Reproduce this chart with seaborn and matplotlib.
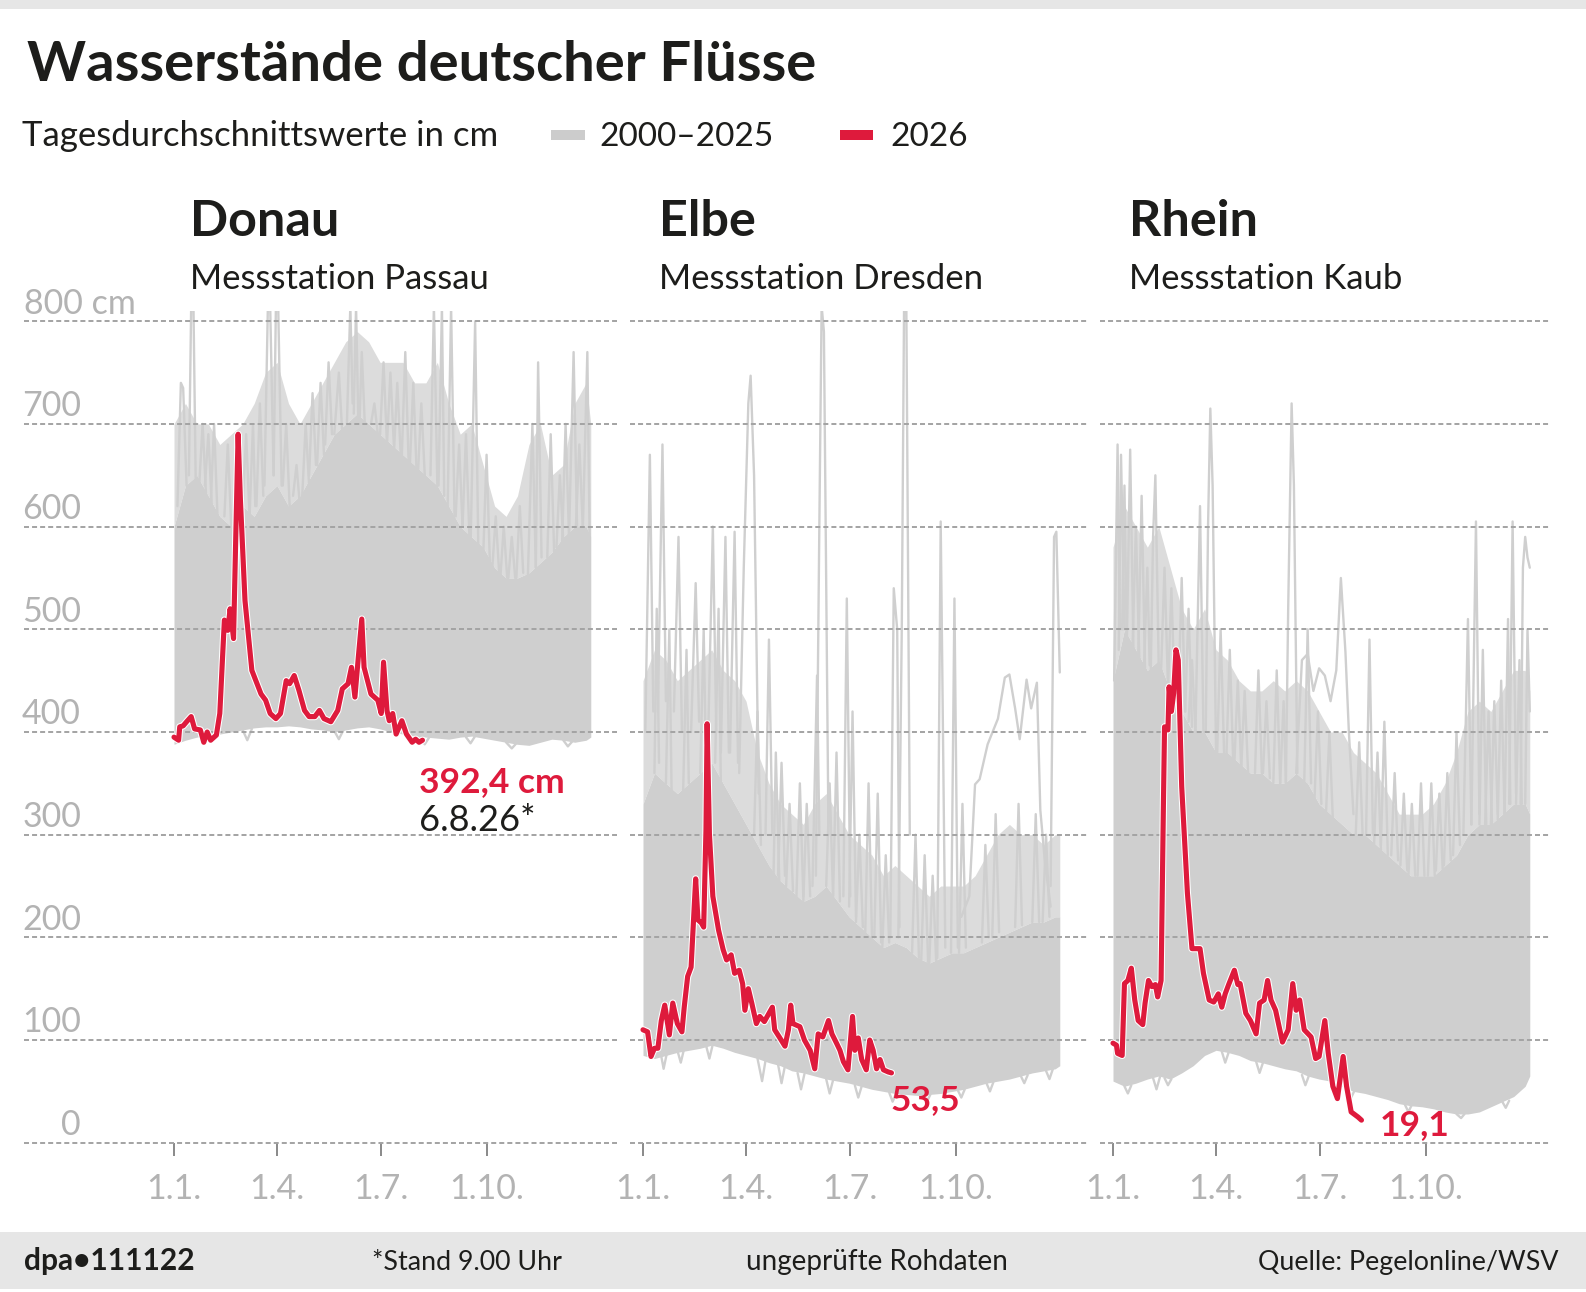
import matplotlib
matplotlib.use("Agg")
import matplotlib.pyplot as plt
from matplotlib.patches import Rectangle
import matplotlib.patheffects as pe
import pandas as pd
import seaborn as sns

# ---------------- data ----------------
GREY_DAYS = [0, 10, 20, 30, 40, 50, 60, 70, 80, 90, 100, 110, 120, 130, 140, 150, 160, 170, 180,
             190, 200, 210, 220, 230, 240, 250, 260, 270, 280, 290, 300, 310, 320, 330, 340, 350, 360, 364]
MONTH_TICKS = [0, 90, 181, 273]
MONTH_LABELS = ["1.1.", "1.4.", "1.7.", "1.10."]
Y_TICKS = [0, 100, 200, 300, 400, 500, 600, 700, 800]

# Donau / Passau
donau_low = [388, 392, 395, 397, 398, 400, 402, 404, 405, 405, 406, 405, 403, 402, 400, 402, 404, 405, 403,
             400, 398, 396, 395, 394, 393, 395, 396, 394, 392, 390, 388, 387, 390, 393, 392, 390, 392, 395]
donau_core = [600, 640, 650, 630, 610, 600, 620, 610, 630, 640, 620, 630, 650, 670, 690, 700, 710, 700, 690,
              680, 670, 660, 650, 640, 620, 600, 590, 580, 560, 550, 550, 555, 565, 575, 590, 600, 600, 590]
donau_outer = [700, 720, 700, 700, 680, 690, 700, 720, 750, 760, 720, 700, 720, 740, 760, 780, 790, 780, 760,
               760, 760, 740, 740, 760, 720, 690, 700, 660, 620, 610, 630, 680, 700, 650, 660, 720, 740, 700]
donau_spike_days = [[3, 6, 8, 11], [13, 15, 17, 19], [22, 25, 28], [32, 35, 38], [44, 47, 50], [72, 75, 78],
                    [79, 82, 84, 87], [87, 89, 91, 94], [104, 107, 110], [140, 144, 147], [151, 154, 156],
                    [157, 159, 161], [162, 164, 167], [172, 175, 178], [199, 202, 205], [213, 216, 219],
                    [224, 227, 230], [231, 234, 236], [239, 242, 245], [259, 263, 266], [270, 273, 276],
                    [309, 313, 316], [316, 318, 321], [326, 329, 332], [345, 349, 352], [357, 361, 363],
                    [27, 30, 33], [53, 56, 59], [60, 63, 66], [66, 69, 71], [95, 98, 101], [112, 115, 118],
                    [118, 121, 124], [125, 128, 131], [132, 135, 138], [180, 183, 186], [186, 189, 192],
                    [192, 195, 198], [206, 209, 212], [246, 249, 252], [252, 255, 258], [278, 281, 284],
                    [285, 288, 291], [292, 295, 298], [299, 302, 305], [334, 337, 340], [339, 342, 345],
                    [351, 354, 357],
                    [60, 64, 68], [140, 144, 148], [215, 219, 223], [255, 259, 263], [290, 295, 299],
                    [340, 344, 348]]
donau_spike_vals = [[620, 740, 735, 640], [650, 815, 815, 640], [640, 700, 630], [620, 700, 610], [610, 680, 600],
                    [620, 720, 630], [640, 815, 815, 650], [650, 815, 815, 640], [630, 660, 620], [690, 750, 690],
                    [700, 815, 720], [710, 815, 700], [700, 770, 690], [700, 720, 690], [670, 770, 660],
                    [650, 720, 650], [650, 815, 640], [640, 815, 630], [620, 815, 610], [580, 800, 560],
                    [570, 670, 560], [550, 700, 560], [560, 760, 570], [570, 690, 575], [590, 770, 600],
                    [595, 770, 590],
                    [640, 690, 620], [600, 660, 610], [620, 690, 610], [610, 700, 620], [640, 700, 620],
                    [630, 700, 640], [650, 730, 660], [660, 740, 670], [680, 760, 690], [690, 760, 680],
                    [680, 750, 680], [670, 740, 670], [660, 740, 650], [610, 680, 600], [600, 690, 590],
                    [560, 610, 555], [550, 600, 550], [550, 590, 550], [550, 620, 555], [580, 650, 585],
                    [585, 700, 590], [600, 680, 600],
                    [402, 392, 403], [401, 393, 402], [395, 388, 395], [395, 389, 396], [390, 384, 389],
                    [392, 386, 391]]
donau_red_days = [0, 4, 5, 8, 11, 15, 18, 23, 26, 29, 32, 37, 40, 44, 47, 49, 52, 54, 56, 58,
                  62, 68, 76, 80, 84, 89, 93, 98, 101, 105, 109, 114, 118, 123, 127, 131, 137, 143, 147, 152,
                  155, 158, 161, 164, 166, 172, 178, 181, 183, 186, 188, 191, 194, 199, 203, 208, 211, 214, 217]
donau_red_vals = [395, 392, 405, 406, 410, 415, 403, 402, 390, 400, 392, 397, 418, 509, 499, 520, 491, 593, 690, 626,
                  528, 460, 437, 431, 418, 413, 418, 450, 447, 455, 441, 421, 415, 415, 421, 413, 410, 421, 442, 447,
                  463, 434, 473, 510, 463, 437, 431, 418, 468, 421, 411, 418, 398, 411, 398, 390, 393, 390, 392]

# Elbe / Dresden
elbe_low = [85, 82, 85, 88, 90, 92, 95, 92, 88, 85, 82, 78, 75, 70, 68, 65, 62, 60, 58,
            55, 52, 50, 48, 47, 46, 47, 48, 50, 52, 55, 58, 60, 62, 65, 68, 70, 72, 75]
elbe_core = [330, 360, 350, 340, 350, 360, 370, 350, 330, 310, 290, 270, 255, 245, 235, 240, 250, 235, 220,
             210, 200, 190, 195, 190, 180, 175, 180, 185, 185, 190, 195, 200, 205, 210, 215, 215, 220, 220]
elbe_outer = [450, 480, 470, 450, 460, 470, 480, 460, 450, 430, 380, 350, 330, 320, 310, 330, 340, 320, 300,
              290, 280, 260, 270, 260, 250, 240, 250, 250, 250, 260, 280, 300, 310, 300, 300, 290, 300, 300]
elbe_spike_days = [[2, 6, 9], [13, 17, 20], [27, 31, 34], [42, 46, 49], [57, 61, 64], [68, 72, 75], [76, 80, 83],
                   [84, 88, 92, 94, 97, 101], [107, 110, 113], [118, 121, 124], [134, 137, 140], [148, 152, 154],
                   [151, 154, 156, 158, 162], [175, 178, 181], [180, 183, 186], [194, 197, 200], [202, 205, 208],
                   [216, 219, 222, 224], [223, 226, 228, 230, 233], [257, 260, 264], [269, 272, 275],
                   [278, 285, 290, 294, 301, 310, 316, 320, 325, 329, 335, 339, 344, 347, 351, 356],
                   [356, 359, 361, 364],
                   [10, 12, 14], [20, 23, 25], [35, 38, 40], [50, 53, 55], [63, 66, 68], [97, 100, 103],
                   [114, 116, 119], [125, 128, 131], [140, 143, 146], [160, 163, 166], [166, 169, 172],
                   [186, 189, 192], [209, 212, 215], [235, 238, 241], [243, 246, 249], [250, 253, 256],
                   [276, 279, 282], [296, 299, 302], [305, 308, 311], [325, 328, 331], [340, 343, 346],
                   [349, 352, 355],
                   [15, 18, 21], [30, 33, 36], [55, 58, 61], [100, 104, 107], [118, 121, 124], [135, 138, 141],
                   [160, 163, 166], [185, 188, 191], [215, 218, 221], [245, 248, 251], [275, 278, 281],
                   [300, 303, 306], [330, 333, 336], [352, 355, 358]]
elbe_spike_vals = [[400, 670, 420], [420, 680, 430], [420, 590, 400], [400, 545, 410], [400, 600, 400],
                   [380, 590, 380], [380, 595, 370], [360, 560, 720, 747, 650, 340], [300, 490, 300],
                   [260, 370, 260], [240, 350, 240], [250, 455, 300], [260, 600, 815, 790, 300],
                   [240, 530, 240], [230, 420, 220], [200, 350, 200], [200, 340, 195], [200, 540, 500, 210],
                   [200, 500, 815, 815, 300], [180, 605, 190], [185, 530, 190],
                   [220, 240, 349, 354, 388, 413, 453, 456, 423, 393, 451, 423, 448, 324, 274, 230],
                   [250, 590, 595, 458],
                   [360, 520, 370], [350, 500, 340], [340, 480, 350], [360, 500, 370], [370, 520, 350],
                   [300, 420, 290], [260, 380, 255], [250, 330, 245], [235, 330, 240], [250, 350, 240],
                   [240, 380, 235], [215, 300, 210], [190, 280, 195], [185, 300, 180], [178, 280, 176],
                   [175, 260, 178], [185, 330, 190], [195, 290, 200], [200, 320, 205], [210, 330, 212],
                   [215, 320, 215], [215, 300, 220],
                   [90, 72, 88], [90, 78, 92], [95, 82, 96], [82, 60, 80], [76, 58, 75], [68, 52, 67],
                   [62, 48, 61], [56, 44, 55], [49, 40, 48], [46, 40, 47], [51, 44, 52], [58, 50, 59],
                   [65, 58, 66], [70, 62, 72]]
elbe_red_days = [0, 4, 7, 10, 13, 16, 19, 23, 26, 30, 34, 36, 39, 42, 44, 46, 48, 51, 53, 55,
                 56, 58, 61, 66, 70, 73, 77, 80, 84, 87, 89, 92, 95, 99, 102, 106, 109, 113, 115, 119,
                 124, 127, 129, 131, 137, 141, 146, 150, 153, 157, 162, 165, 169, 172, 175, 179, 183, 185, 188, 191,
                 195, 198, 201, 204, 207, 210, 214, 217]
elbe_red_vals = [110, 108, 84, 92, 92, 119, 134, 105, 136, 116, 108, 132, 162, 171, 214, 257, 217, 214, 210, 305,
                 408, 301, 240, 207, 188, 178, 183, 165, 168, 155, 129, 150, 136, 116, 123, 118, 124, 132, 110, 103,
                 94, 110, 134, 116, 113, 100, 90, 72, 106, 103, 119, 106, 97, 90, 79, 71, 123, 90, 102, 81,
                 71, 100, 90, 72, 81, 71, 69, 68]

# Rhein / Kaub
rhein_low = [60, 55, 58, 62, 65, 62, 68, 75, 85, 90, 88, 85, 80, 78, 75, 72, 70, 65, 62,
             60, 55, 50, 48, 45, 42, 38, 36, 35, 33, 30, 28, 28, 30, 35, 40, 45, 55, 65]
rhein_core = [450, 500, 480, 460, 470, 440, 420, 400, 400, 380, 380, 370, 360, 360, 350, 350, 360, 350, 330,
              320, 310, 300, 300, 290, 280, 270, 260, 260, 260, 270, 280, 300, 310, 310, 320, 330, 330, 320]
rhein_outer = [580, 620, 600, 580, 600, 560, 520, 500, 520, 480, 470, 450, 440, 440, 450, 440, 450, 440, 420,
               400, 400, 380, 370, 360, 340, 320, 320, 320, 330, 350, 380, 420, 430, 420, 440, 460, 460, 440]
rhein_spike_days = [[1, 4, 6], [5, 7, 10], [12, 15, 18], [22, 25, 28], [33, 35, 37, 40], [57, 60, 63], [72, 76, 79],
                    [81, 83, 85, 87, 90], [91, 94, 97], [99, 102, 105], [124, 127, 130], [140, 143, 146],
                    [151, 153, 156, 158, 161], [167, 170, 173],
                    [160, 165, 170, 175, 180, 185, 190, 195, 199, 203, 206, 210],
                    [221, 224, 227], [234, 237, 240], [266, 269, 272], [275, 278, 281], [282, 285, 288],
                    [297, 300, 303], [306, 310, 313], [313, 317, 320], [320, 323, 326], [330, 333, 336],
                    [342, 345, 347], [346, 349, 352], [356, 358, 360, 362, 364],
                    [8, 10, 12], [17, 20, 23], [27, 30, 32], [42, 45, 48], [48, 51, 54], [63, 66, 69],
                    [66, 69, 72], [106, 109, 112], [112, 115, 118], [131, 134, 137], [146, 149, 151],
                    [176, 179, 182], [186, 189, 192], [212, 215, 218], [228, 231, 234], [243, 246, 249],
                    [251, 254, 257], [258, 261, 264], [289, 292, 295], [325, 328, 331], [336, 339, 342],
                    [352, 355, 357], [360, 362, 364],
                    [10, 13, 16], [35, 38, 41], [45, 48, 51], [95, 98, 101], [125, 128, 131], [165, 168, 171],
                    [205, 208, 211], [255, 258, 261], [300, 304, 307], [340, 343, 346]]
rhein_spike_vals = [[450, 680, 500], [480, 670, 500], [480, 675, 470], [470, 630, 460], [460, 590, 650, 460],
                    [430, 550, 420], [400, 620, 400], [400, 600, 715, 640, 380], [380, 500, 380], [375, 480, 370],
                    [360, 460, 360], [350, 460, 350], [350, 520, 720, 640, 360], [350, 500, 350],
                    [360, 470, 476, 440, 462, 455, 430, 460, 550, 478, 400, 320],
                    [300, 490, 300], [290, 410, 280], [260, 350, 260], [260, 350, 260], [265, 340, 265],
                    [280, 400, 290], [300, 510, 310], [310, 605, 320], [310, 480, 310], [310, 430, 320],
                    [320, 510, 330], [330, 605, 340], [330, 560, 590, 570, 560],
                    [500, 640, 490], [480, 600, 470], [460, 560, 465], [460, 560, 445], [440, 540, 430],
                    [420, 520, 405], [410, 470, 400], [370, 450, 365], [365, 440, 360], [360, 430, 355],
                    [350, 430, 350], [335, 420, 330], [320, 400, 315], [300, 390, 300], [290, 380, 285],
                    [280, 360, 275], [270, 340, 265], [260, 330, 260], [270, 360, 275], [310, 420, 310],
                    [315, 450, 320], [330, 470, 330], [330, 500, 420],
                    [55, 48, 56], [63, 52, 64], [63, 56, 62], [89, 78, 88], [79, 68, 78], [66, 56, 65],
                    [52, 44, 51], [37, 30, 37], [28, 24, 28], [40, 34, 41]]
rhein_red_days = [0, 3, 4, 8, 10, 13, 16, 19, 22, 26, 28, 31, 34, 37, 39, 42, 44, 45, 48, 49,
                  51, 53, 55, 57, 60, 65, 69, 73, 76, 79, 84, 88, 92, 95, 98, 101, 106, 109, 111, 116,
                  120, 125, 128, 132, 135, 138, 142, 148, 153, 157, 160, 163, 167, 173, 177, 180, 185, 188, 192, 196,
                  201, 204, 208, 214, 217]
rhein_red_vals = [97, 95, 87, 85, 155, 158, 170, 139, 119, 115, 136, 158, 152, 154, 142, 158, 327, 405, 402, 444,
                  420, 438, 480, 470, 347, 243, 189, 189, 189, 165, 139, 137, 145, 132, 145, 154, 168, 154, 155, 126,
                  119, 106, 136, 139, 158, 139, 129, 98, 110, 155, 129, 139, 110, 103, 82, 84, 119, 87, 55, 43,
                  84, 55, 30, 25, 22]

# ---------------- style ----------------
W, H = 1586, 1292
RED = "#de1a3c"
GREY = "#cfcfcf"
GREY_OUT = "#dcdcdc"
TXT = "#1d1d1b"
AXGREY = "#b3b3b3"

sns.set_theme(style="white")
plt.rcParams["font.family"] = ["Lato", "DejaVu Sans"]
plt.rcParams["lines.scale_dashes"] = False

fig = plt.figure(figsize=(W / 100, H / 100), dpi=100)
fig.patch.set_facecolor("white")


def fx(x):
    return x / W


def fy(y):
    return 1 - y / H


def ftext(x, y, s, **kw):
    kw.setdefault("color", TXT)
    kw.setdefault("va", "baseline")
    fig.text(fx(x), fy(y), s, **kw)


# header strip and footer band
fig.add_artist(Rectangle((0, fy(9)), 1, 9 / H, transform=fig.transFigure, color="#e6e6e6", lw=0))
fig.add_artist(Rectangle((0, fy(1289)), 1, (1289 - 1232) / H, transform=fig.transFigure, color="#e6e6e6", lw=0))

# title / legend
ftext(27, 81, "Wasserstände deutscher Flüsse", fontsize=40.5, fontweight="bold")
ftext(22, 146, "Tagesdurchschnittswerte in cm", fontsize=25)
fig.add_artist(Rectangle((fx(551), fy(140)), (585 - 551) / W, 10 / H, transform=fig.transFigure, color="#cccccc", lw=0))
ftext(599, 146, "2000–2025", fontsize=24)
fig.add_artist(Rectangle((fx(840), fy(140)), (873 - 840) / W, 10 / H, transform=fig.transFigure, color=RED, lw=0))
ftext(890, 146, "2026", fontsize=24)

# footer
ftext(24, 1270, "dpa•111122", fontsize=21.5, fontweight="bold")
ftext(372, 1270, "*Stand 9.00 Uhr", fontsize=19.3)
ftext(746, 1270, "ungeprüfte Rohdaten", fontsize=20)
ftext(1559, 1270, "Quelle: Pegelonline/WSV", fontsize=19.3, ha="right")

panels = [
    dict(name="Donau", sub="Messstation Passau", x0=24, x1=617, x11=174, low=donau_low, core=donau_core,
         outer=donau_outer, sd=donau_spike_days, sv=donau_spike_vals, rd=donau_red_days, rv=donau_red_vals),
    dict(name="Elbe", sub="Messstation Dresden", x0=630, x1=1087, x11=643, low=elbe_low, core=elbe_core,
         outer=elbe_outer, sd=elbe_spike_days, sv=elbe_spike_vals, rd=elbe_red_days, rv=elbe_red_vals),
    dict(name="Rhein", sub="Messstation Kaub", x0=1100, x1=1551, x11=1113, low=rhein_low, core=rhein_core,
         outer=rhein_outer, sd=rhein_spike_days, sv=rhein_spike_vals, rd=rhein_red_days, rv=rhein_red_vals),
]

PX_PER_DAY = 1.145
Y_TOP, Y_BOT = 311, 1153
axes = []
for p in panels:
    ax = fig.add_axes([fx(p["x0"]), fy(Y_BOT), (p["x1"] - p["x0"]) / W, (Y_BOT - Y_TOP) / H])
    ax.set_xlim((p["x0"] - p["x11"]) / PX_PER_DAY, (p["x1"] - p["x11"]) / PX_PER_DAY)
    ax.set_ylim(-10, 810)
    ax.patch.set_alpha(0)
    for s in ["left", "right", "top"]:
        ax.spines[s].set_visible(False)
    ax.spines["bottom"].set_position(("data", 0))
    ax.spines["bottom"].set_visible(False)

    # grey history
    ax.fill_between(GREY_DAYS, p["core"], p["outer"], color=GREY_OUT, lw=0, zorder=1)
    ax.fill_between(GREY_DAYS, p["low"], p["core"], color=GREY, lw=0, zorder=1.1)
    rows = []
    for i, (ds, vs) in enumerate(zip(p["sd"], p["sv"])):
        for d, v in zip(ds, vs):
            rows.append((i, d, v))
    sdf = pd.DataFrame(rows, columns=["seg", "day", "value"])
    sns.lineplot(data=sdf, x="day", y="value", units="seg", estimator=None, sort=False,
                 color=GREY, linewidth=1.7, ax=ax, legend=False, zorder=1.2)

    # dotted grid
    for v in Y_TICKS:
        ax.axhline(v, color="#a3a3a3", lw=1.4, ls=(0, (3.6, 2.2)), zorder=2)

    # 2026
    rdf = pd.DataFrame({"day": p["rd"], "value": p["rv"]})
    sns.lineplot(data=rdf, x="day", y="value", color=RED, linewidth=3.7, ax=ax, zorder=3,
                 estimator=None, sort=False)
    red_line = ax.lines[-1]
    red_line.set_solid_joinstyle("round")
    red_line.set_solid_capstyle("round")
    red_line.set_path_effects([pe.Stroke(linewidth=5.2, foreground="white"), pe.Normal()])

    ax.set_xticks(MONTH_TICKS)
    ax.set_xticklabels(MONTH_LABELS)
    ax.tick_params(axis="x", length=9, width=1.3, color="#808080", direction="out", pad=13,
                   labelsize=24.5, labelcolor=AXGREY, bottom=True)
    ax.set_yticks([])
    ax.set_xlabel("")
    ax.set_ylabel("")
    axes.append(ax)

    ftext(p["x11"] + 16, 236, p["name"], fontsize=36.2, fontweight="bold")
    ftext(p["x11"] + 16, 289, p["sub"], fontsize=25)

# y labels on Donau panel
ax0 = axes[0]
x_right = (81 - 174) / PX_PER_DAY
x_left = (24 - 174) / PX_PER_DAY
for v in Y_TICKS:
    if v == 800:
        ax0.annotate("800 cm", xy=(x_left, v), xytext=(0, 5.5), textcoords="offset points",
                     ha="left", va="baseline", fontsize=24.5, color=AXGREY)
    else:
        ax0.annotate(str(v), xy=(x_right, v), xytext=(0, 5.5), textcoords="offset points",
                     ha="right", va="baseline", fontsize=24.5, color=AXGREY)

# end labels
ftext(419, 792, "392,4 cm", fontsize=25.5, fontweight="bold", color=RED)
ftext(419, 831, "6.8.26*", fontsize=26)
ftext(891, 1110, "53,5", fontsize=25.5, fontweight="bold", color=RED)
ftext(1380, 1135, "19,1", fontsize=25.5, fontweight="bold", color=RED)

fig.savefig("out.png", dpi=100, facecolor="white")
